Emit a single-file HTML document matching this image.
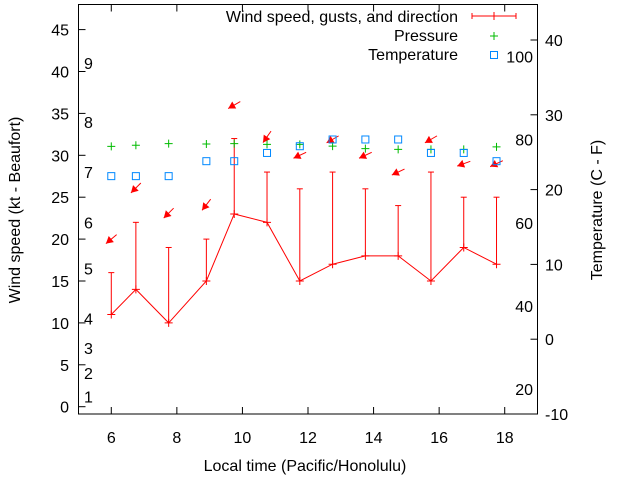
<!DOCTYPE html>
<html><head><meta charset="utf-8"><style>
body{margin:0;background:#fff}
svg{display:block;font-family:"Liberation Sans",sans-serif;font-size:16px}
</style></head><body>
<svg id="c" width="640" height="480" viewBox="0 0 640 480">
<rect x="0" y="0" width="640" height="480" fill="#fff"/>
</svg>
<script>
const times=[6,6.75,7.75,8.9,9.75,10.75,11.75,12.75,13.75,14.75,15.75,16.75,17.75];
const windSpeed=[11,14,10,15,23,22,15,17,18,18,15,19,17];
const gusts=[16,22,19,20,32,28,26,28,26,24,28,25,25];
const arrowPos=[20.0,26.1,23.1,24.1,36.0,32.2,30.0,31.9,30.0,28.0,31.9,29.0,29.0];
const arrowAngle=[40,45,45,52,30,55,25,30,25,25,30,20,25];
const pressure=[31.07,31.2,31.4,31.35,31.4,31.3,31.3,31.1,30.8,30.7,30.7,30.7,31.0];
const temperature=[21.8,21.8,21.8,23.8,23.8,24.9,25.8,26.7,26.7,26.7,24.9,24.9,23.8];
const xTicks=[6,8,10,12,14,16,18];
const yTicks=[0,5,10,15,20,25,30,35,40,45];
const y2Ticks=[-10,0,10,20,30,40];
const beaufortLabels=[1,2,3,4,5,6,7,8,9];
const beaufortPos=[1.2,4.0,7.0,10.5,16.5,22.0,28.0,34.0,41.0];
const fLabels=[20,40,60,80,100];

const L=78.5,R=537.5,T=4.5,B=414;
const X=v=>L+(v-5)/14*(R-L);
const Y=v=>406.7-v*8.38;
const Y2=v=>B-(v+10)*7.48;
const F2C=f=>(f-32)*5/9;
const svg=document.getElementById('c');
const NS='http://www.w3.org/2000/svg';
function mk(tag,attrs,parent){const e=document.createElementNS(NS,tag);for(const k in attrs)e.setAttribute(k,attrs[k]);(parent||svg).appendChild(e);return e;}
function txt(s,x,y,anchor,parent){const t=mk('text',{x:x,y:y,'text-anchor':anchor||'start',fill:'#000'},parent);t.textContent=s;return t;}

const frame=mk('rect',{x:L,y:T,width:R-L,height:B-T,fill:'none',stroke:'#000','stroke-width':1});



xTicks.forEach(v=>{
  const g=mk('g',{});
  
  
  mk('line',{x1:X(v),x2:X(v),y1:B,y2:B-7,stroke:'#000'},g);
  mk('line',{x1:X(v),x2:X(v),y1:T,y2:T+7,stroke:'#000'},g);
  txt(String(v),X(v),443,'middle',g);
});
yTicks.forEach(v=>{
  const g=mk('g',{});
  
  
  mk('line',{x1:L,x2:L+7,y1:Y(v),y2:Y(v),stroke:'#000'},g);
  txt(String(v),69,Y(v)+6,'end',g);
});
y2Ticks.forEach(v=>{
  const g=mk('g',{});
  
  
  mk('line',{x1:R,x2:R-7,y1:Y2(v),y2:Y2(v),stroke:'#000'},g);
  txt(String(v),545,Y2(v)+6,'start',g);
});
beaufortLabels.forEach((b,i)=>{
  const t=txt(String(b),84,Y(beaufortPos[i])+6,'start');
  
  
});
fLabels.forEach(f=>{
  const t=txt(String(f),533,Y2(F2C(f))+6,'end');
  
  
});

times.forEach((t,i)=>{
  const g=mk('g',{stroke:'#f00','stroke-width':1});
  
  
  mk('line',{x1:X(t),x2:X(t),y1:Y(windSpeed[i]),y2:Y(gusts[i])},g);
  mk('line',{x1:X(t)-3,x2:X(t)+3,y1:Y(gusts[i]),y2:Y(gusts[i])},g);
});
const wl=mk('polyline',{points:times.map((t,i)=>X(t)+','+Y(windSpeed[i])).join(' '),fill:'none',stroke:'#f00','stroke-width':1});


times.forEach((t,i)=>{
  const p=mk('path',{d:`M${X(t)-4} ${Y(windSpeed[i])}h8M${X(t)} ${Y(windSpeed[i])-4}v8`,stroke:'#f00'});
  
  
});
times.forEach((t,i)=>{
  const a=arrowAngle[i]*Math.PI/180, len=14;
  const cx=X(t), cy=Y(arrowPos[i]);
  const dx=Math.cos(a)*len/2, dy=Math.sin(a)*len/2;
  const hx=cx-dx, hy=cy+dy, tx=cx+dx, ty=cy-dy;
  const g=mk('g',{});
  
  
  mk('line',{x1:tx,y1:ty,x2:hx,y2:hy,stroke:'#f00'},g);
  const ux=-Math.cos(a), uy=Math.sin(a);
  const bx=hx-ux*7, by=hy-uy*7;
  const px=-uy*4, py=ux*4;
  mk('polygon',{points:`${hx},${hy} ${bx+px},${by+py} ${bx-px},${by-py}`,fill:'#f00'},g);
});
times.forEach((t,i)=>{
  const p=mk('path',{d:`M${X(t)-4} ${Y(pressure[i])}h8M${X(t)} ${Y(pressure[i])-4}v8`,stroke:'#0b0'});
  
  
});
times.forEach((t,i)=>{
  const r=mk('rect',{x:X(t)-3.5,y:Y2(temperature[i])-3.5,width:7,height:7,fill:'none',stroke:'#08f'});
  
  
});

const lg=mk('g',{});


[['Wind speed, gusts, and direction',22],['Pressure',41],['Temperature',60]].forEach(d=>{
  const t=mk('text',{x:458,y:d[1],'text-anchor':'end'},lg);t.textContent=d[0];
  
  
});
mk('path',{d:'M472 16h44M472 13v6M516 13v6M494 12v8',stroke:'#f00'},lg);
mk('path',{d:'M490 36h8M494 32v8',stroke:'#0b0'},lg);
mk('rect',{x:490.5,y:51.5,width:7,height:7,fill:'none',stroke:'#08f'},lg);
const t1=mk('text',{x:20,y:210,transform:'rotate(-90 20 210)','text-anchor':'middle'});t1.textContent='Wind speed (kt - Beaufort)';

const t2=mk('text',{x:602,y:210,transform:'rotate(-90 602 210)','text-anchor':'middle'});t2.textContent='Temperature (C - F)';

const t3=mk('text',{x:305,y:471,'text-anchor':'middle'});t3.textContent='Local time (Pacific/Honolulu)';

</script>
</body></html>
